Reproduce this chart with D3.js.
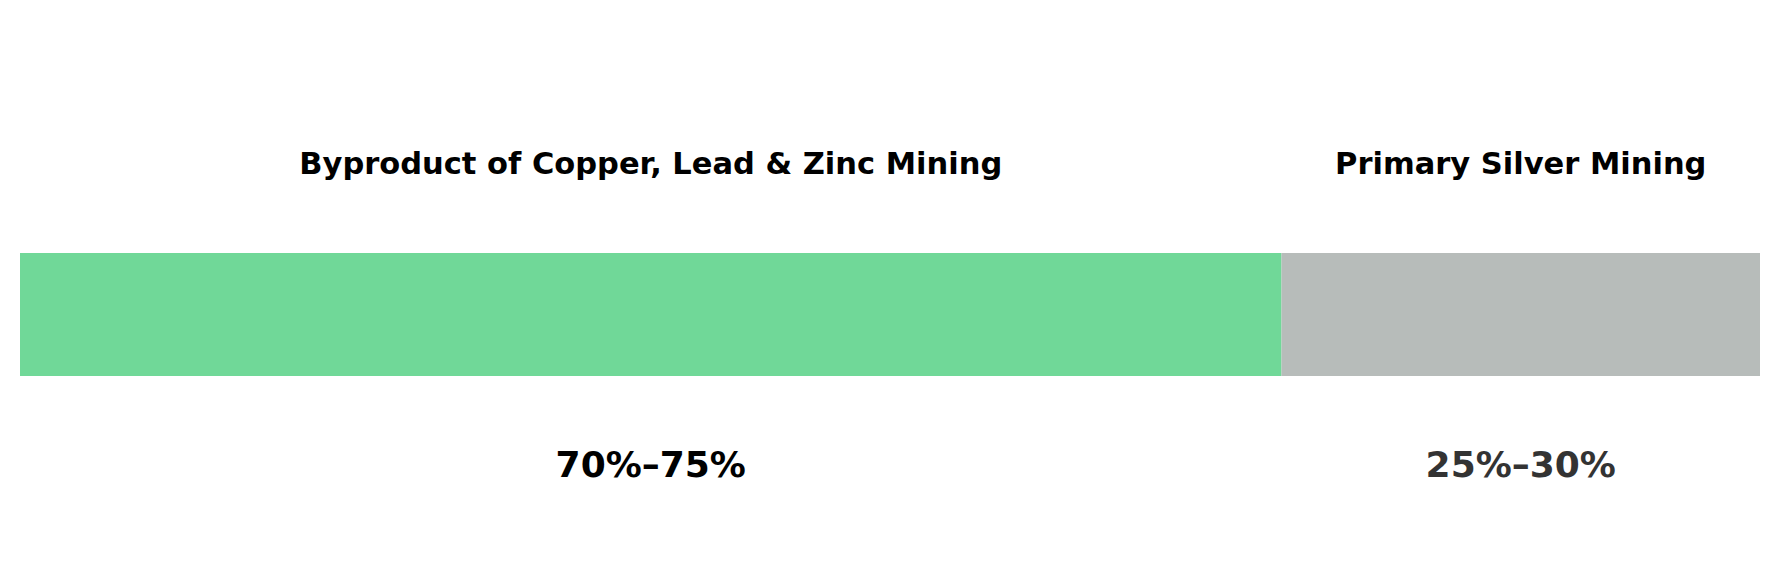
<!DOCTYPE html>
<html>
<head>
<meta charset="utf-8">
<script src="https://cdn.jsdelivr.net/npm/d3@7"></script>
<style>
	body { margin: 0; background: #fff; }
	svg { display: block; }
</style>
</head>
<body>
<svg id="chart" width="1779" height="580"></svg>
<script>
// Share of silver supply by source (midpoint of the range)
const categories = ["Byproduct of Copper, Lead & Zinc Mining", "Primary Silver Mining"];
const shares = [72.5, 27.5];
const rangeLabels = ["70%–75%", "25%–30%"];

const colors = ["#70d898", "#b7bcba"];
const labelColors = ["#000000", "#333333"];

const svg = d3.select("#chart");

const x = d3.scaleLinear().domain([0, d3.sum(shares)]).range([20, 1760]);

// cumulative start for each segment
let acc = 0;
const segments = categories.map((name, i) => {
	const s = { name, value: shares[i], start: acc, range: rangeLabels[i], i };
	acc += shares[i];
	return s;
});

const barTop = 253, barHeight = 123;

svg.append("g")
	.selectAll("rect")
	.data(segments)
	.join("rect")
	.attr("x", (d) => x(d.start))
	.attr("y", barTop)
	.attr("width", (d) => x(d.start + d.value) - x(d.start))
	.attr("height", barHeight)
	.attr("fill", (d) => colors[d.i]);

// category labels above
svg.append("g")
	.attr("text-anchor", "middle")
	.style("font", "bold 30.5px 'DejaVu Sans', sans-serif")
	.selectAll("text")
	.data(segments)
	.join("text")
	.attr("x", (d) => x(d.start + d.value / 2))
	.attr("y", 174)
	.attr("fill", "#000")
	.text((d) => d.name);

// range labels below
svg.append("g")
	.attr("text-anchor", "middle")
	.style("font", "bold 36px 'DejaVu Sans', sans-serif")
	.selectAll("text")
	.data(segments)
	.join("text")
	.attr("x", (d) => x(d.start + d.value / 2))
	.attr("y", 477)
	.attr("fill", (d) => labelColors[d.i])
	.text((d) => d.range);
</script>
</body>
</html>
